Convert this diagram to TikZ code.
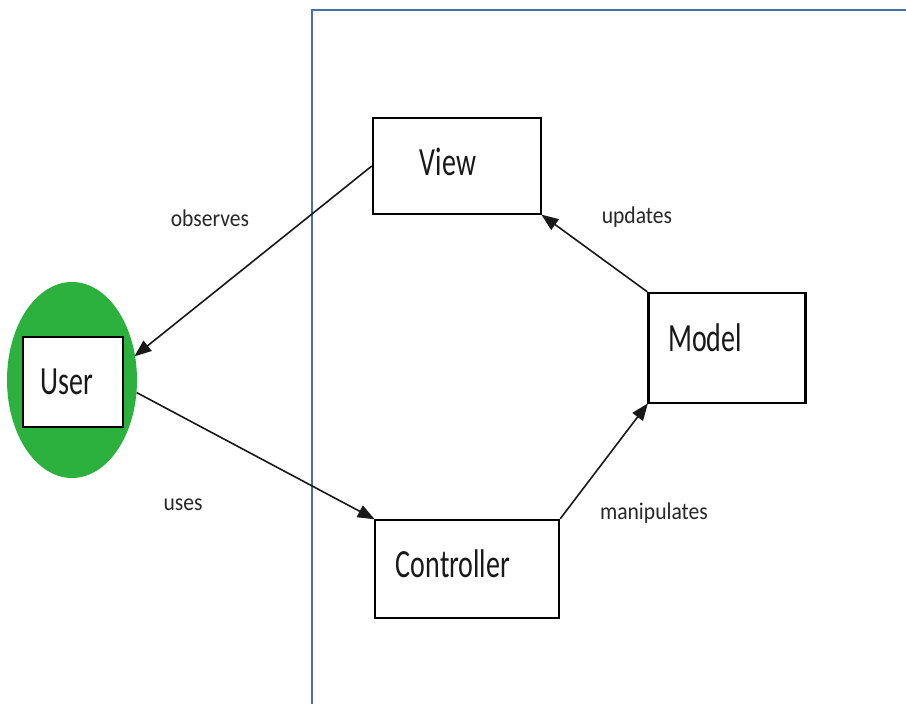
\documentclass[tikz,border=0pt]{standalone}
\usepackage{fontspec}
\setmainfont{Carlito}
\usetikzlibrary{arrows.meta,shapes.geometric}
\definecolor{usergreen}{RGB}{44,176,62}
\definecolor{frameblue}{RGB}{74,110,170}
\definecolor{labelgray}{RGB}{40,40,40}
\newcommand{\boxlabel}[1]{\scalebox{0.7}[1]{#1}}
\newcommand{\edgelabel}[1]{\scalebox{0.9}[1]{#1}}
\begin{document}
\begin{tikzpicture}[x=1pt,y=-1pt,
  box/.style={draw=black, line width=2.4pt, rectangle, inner sep=0pt, fill=white},
  boxtext/.style={font=\fontsize{40}{44}\selectfont, text=black!90, inner sep=0pt},
  lbl/.style={font=\fontsize{24}{28}\selectfont, text=labelgray, inner sep=0pt},
  conn/.style={draw=black!90, line width=1.6pt, -{Triangle[length=17pt,width=13pt]}, shorten >=-1pt}
]
\useasboundingbox[fill=white] (0,0) rectangle (906,704);

% frame (open on right and bottom)
\draw[frameblue, line width=2pt] (312,706) -- (312,10) -- (910,10);

% user
\node[ellipse, fill=usergreen, minimum width=130pt, minimum height=196pt, inner sep=0pt] (userell) at (72,380) {};
\node[box, minimum width=100pt, minimum height=90pt] (userbox) at (73,382) {};
\node[boxtext] (usertxt) at (67,382) {\boxlabel{User}};

% view
\node[box, minimum width=168pt, minimum height=96pt] (view) at (457,166) {};
\node[boxtext] (viewtxt) at (448,162) {\boxlabel{View}};

% model
\node[box, minimum width=157pt, minimum height=110pt] (model) at (727,348) {};
\node[boxtext] (modeltxt) at (705,338) {\boxlabel{Model}};

% controller
\node[box, minimum width=184pt, minimum height=98pt] (ctrl) at (467,569) {};
\node[boxtext] (ctrltxt) at (453,564) {\boxlabel{Controller}};

% connectors
\draw[conn] (view.west) -- (userell.21);
\draw[conn] (userell.-11) -- (ctrl.north west);
\draw[conn] (ctrl.north east) -- (model.south west);
\draw[conn] (model.north west) -- (view.south east);

% labels
\node[lbl] (lobs) at (210,218) {\edgelabel{observes}};
\node[lbl] (luses) at (183,505) {\edgelabel{uses}};
\node[lbl] (lupd) at (637,217) {\edgelabel{updates}};
\node[lbl] (lman) at (654,513) {\edgelabel{manipulates}};
\end{tikzpicture}
\end{document}
